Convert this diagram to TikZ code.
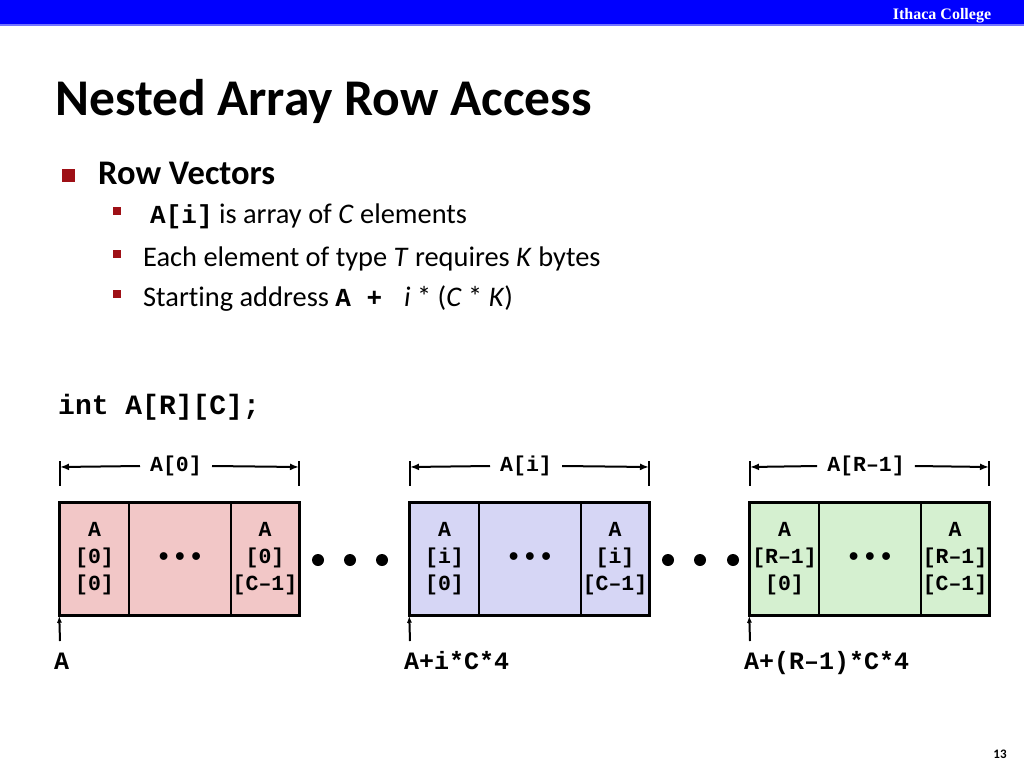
\documentclass[tikz,border=0pt]{standalone}
\usepackage{fontspec}
\setmainfont{Carlito}[Ligatures=NoCommon]
\setmonofont{Liberation Mono}
\newfontfamily\headfont{Liberation Serif}
\usetikzlibrary{arrows.meta}
\definecolor{slideblue}{RGB}{0,0,255}
\definecolor{bulletred}{RGB}{158,16,22}
\definecolor{rowpink}{RGB}{242,199,199}
\definecolor{rowblue}{RGB}{214,214,245}
\definecolor{rowgreen}{RGB}{213,240,208}

\begin{document}
\begin{tikzpicture}[x=1pt, y=-1pt,
  cell/.style = {draw, line width=1.5pt, minimum height=112pt, inner sep=0pt,
    align=center, font=\fontsize{21.5}{27}\selectfont\ttfamily\bfseries},
  dimlabel/.style = {font=\fontsize{21.5}{25}\selectfont\ttfamily\bfseries, inner xsep=10pt},
  dimline/.style = {line width=2pt, -{Latex[length=9pt,width=7pt]}},
  addrline/.style = {line width=2pt, -{Latex[length=7pt,width=5pt]}},
  addrlabel/.style = {anchor=base west, inner sep=0pt,
    font=\fontsize{25}{30}\selectfont\ttfamily\bfseries},
  item/.style = {anchor=base west, inner sep=0pt, font=\fontsize{28.4}{32}\selectfont},
  bigdot/.style = {circle, fill, inner sep=0pt, minimum size=12pt}]
  \useasboundingbox (0,0) rectangle (1024,768);
  \fill[white] (0,0) rectangle (1024,768);
  % header band
  \fill[slideblue] (0,0) rectangle (1024,25);
  \draw[slideblue!55, line width=1.5pt] (0,25) -- (1024,25);
  \node[text=white, font=\fontsize{16}{16}\selectfont\headfont\bfseries] (school) at (942,16) {Ithaca College};
  % title and bullets
  \node[anchor=base west, inner sep=0pt, font=\fontsize{51.5}{56}\selectfont\bfseries] (title) at (55,115) {Nested Array Row Access};
  \node[fill=bulletred, minimum size=13pt, inner sep=0pt] (sq) at (68.5,175) {};
  \node[anchor=base west, inner sep=0pt, font=\fontsize{34.5}{38}\selectfont\bfseries] (rowvec) at (98,184) {Row Vectors};
  \foreach \y [count=\n] in {211,254,294}
    \node[fill=bulletred, minimum size=8pt, inner sep=0pt] (sub\n) at (116.5,\y) {};
  \node[item] (it1) at (150,223) {{\ttfamily\bfseries\fontsize{26}{26}\selectfont A[i]} is array of \textit{C} elements};
  \node[item] (it2) at (143,266) {Each element of type \textit{T} requires \textit{K} bytes};
  \node[item] (it3) at (143,306) {Starting address {\ttfamily\bfseries\fontsize{26}{26}\selectfont A +\ }\ \textit{i} * (\textit{C} * \textit{K})};
  \node[anchor=base west, inner sep=0pt, font=\fontsize{28}{28}\selectfont\ttfamily\bfseries] (decl) at (58,414) {int A[R][C];};
  % the rows
  \foreach \x/\col/\nm/\row/\addr in {60/rowpink/a/0/A, 410/rowblue/b/i/A+i*C*4, 750/rowgreen/c/R–1/{A+(R–1)*C*4}} {
    \node[cell, fill=\col, minimum width=69pt] (\nm0) at (\x+34.5,559) {A\\{[\row]}\\{[0]}};
    \node[cell, fill=\col, minimum width=102pt, font=\fontsize{27}{27}\selectfont\ttfamily\bfseries] (\nm1) at (\x+120,559) {•••};
    \node[cell, fill=\col, minimum width=68pt] (\nm2) at (\x+205,559) {A\\{[\row]}\\{[C–1]}};
    \draw[line width=2.5pt] (\nm0.north west) rectangle (\nm2.south east);
    % size of one row
    \draw[line width=2pt] (\x,461) -- (\x,486);
    \draw[line width=2pt] (\x+239,461) -- (\x+239,486);
    \coordinate (\nm L) at (\x,467);
    \coordinate (\nm R) at (\x+239,467);
    \node[dimlabel] (\nm top) at (\x+116,466) {A[\row]};
    \draw[dimline] (\nm top.west) -- (\nm L);
    \draw[dimline] (\nm top.east) -- (\nm R);
    % start address
    \coordinate (\nm P) at (\x,641);
    \draw[addrline] (\nm P) -- (\nm0.south west);
    \node[addrlabel] (\nm addr) at (\x-6,669) {\addr};
  }
  \foreach \d in {318,350,382,668,700,733}
    \node[bigdot] (dot\d) at (\d,560) {};
  \node[font=\fontsize{13}{13}\selectfont\bfseries] (pagenum) at (1000,754) {13};
\end{tikzpicture}
\end{document}
